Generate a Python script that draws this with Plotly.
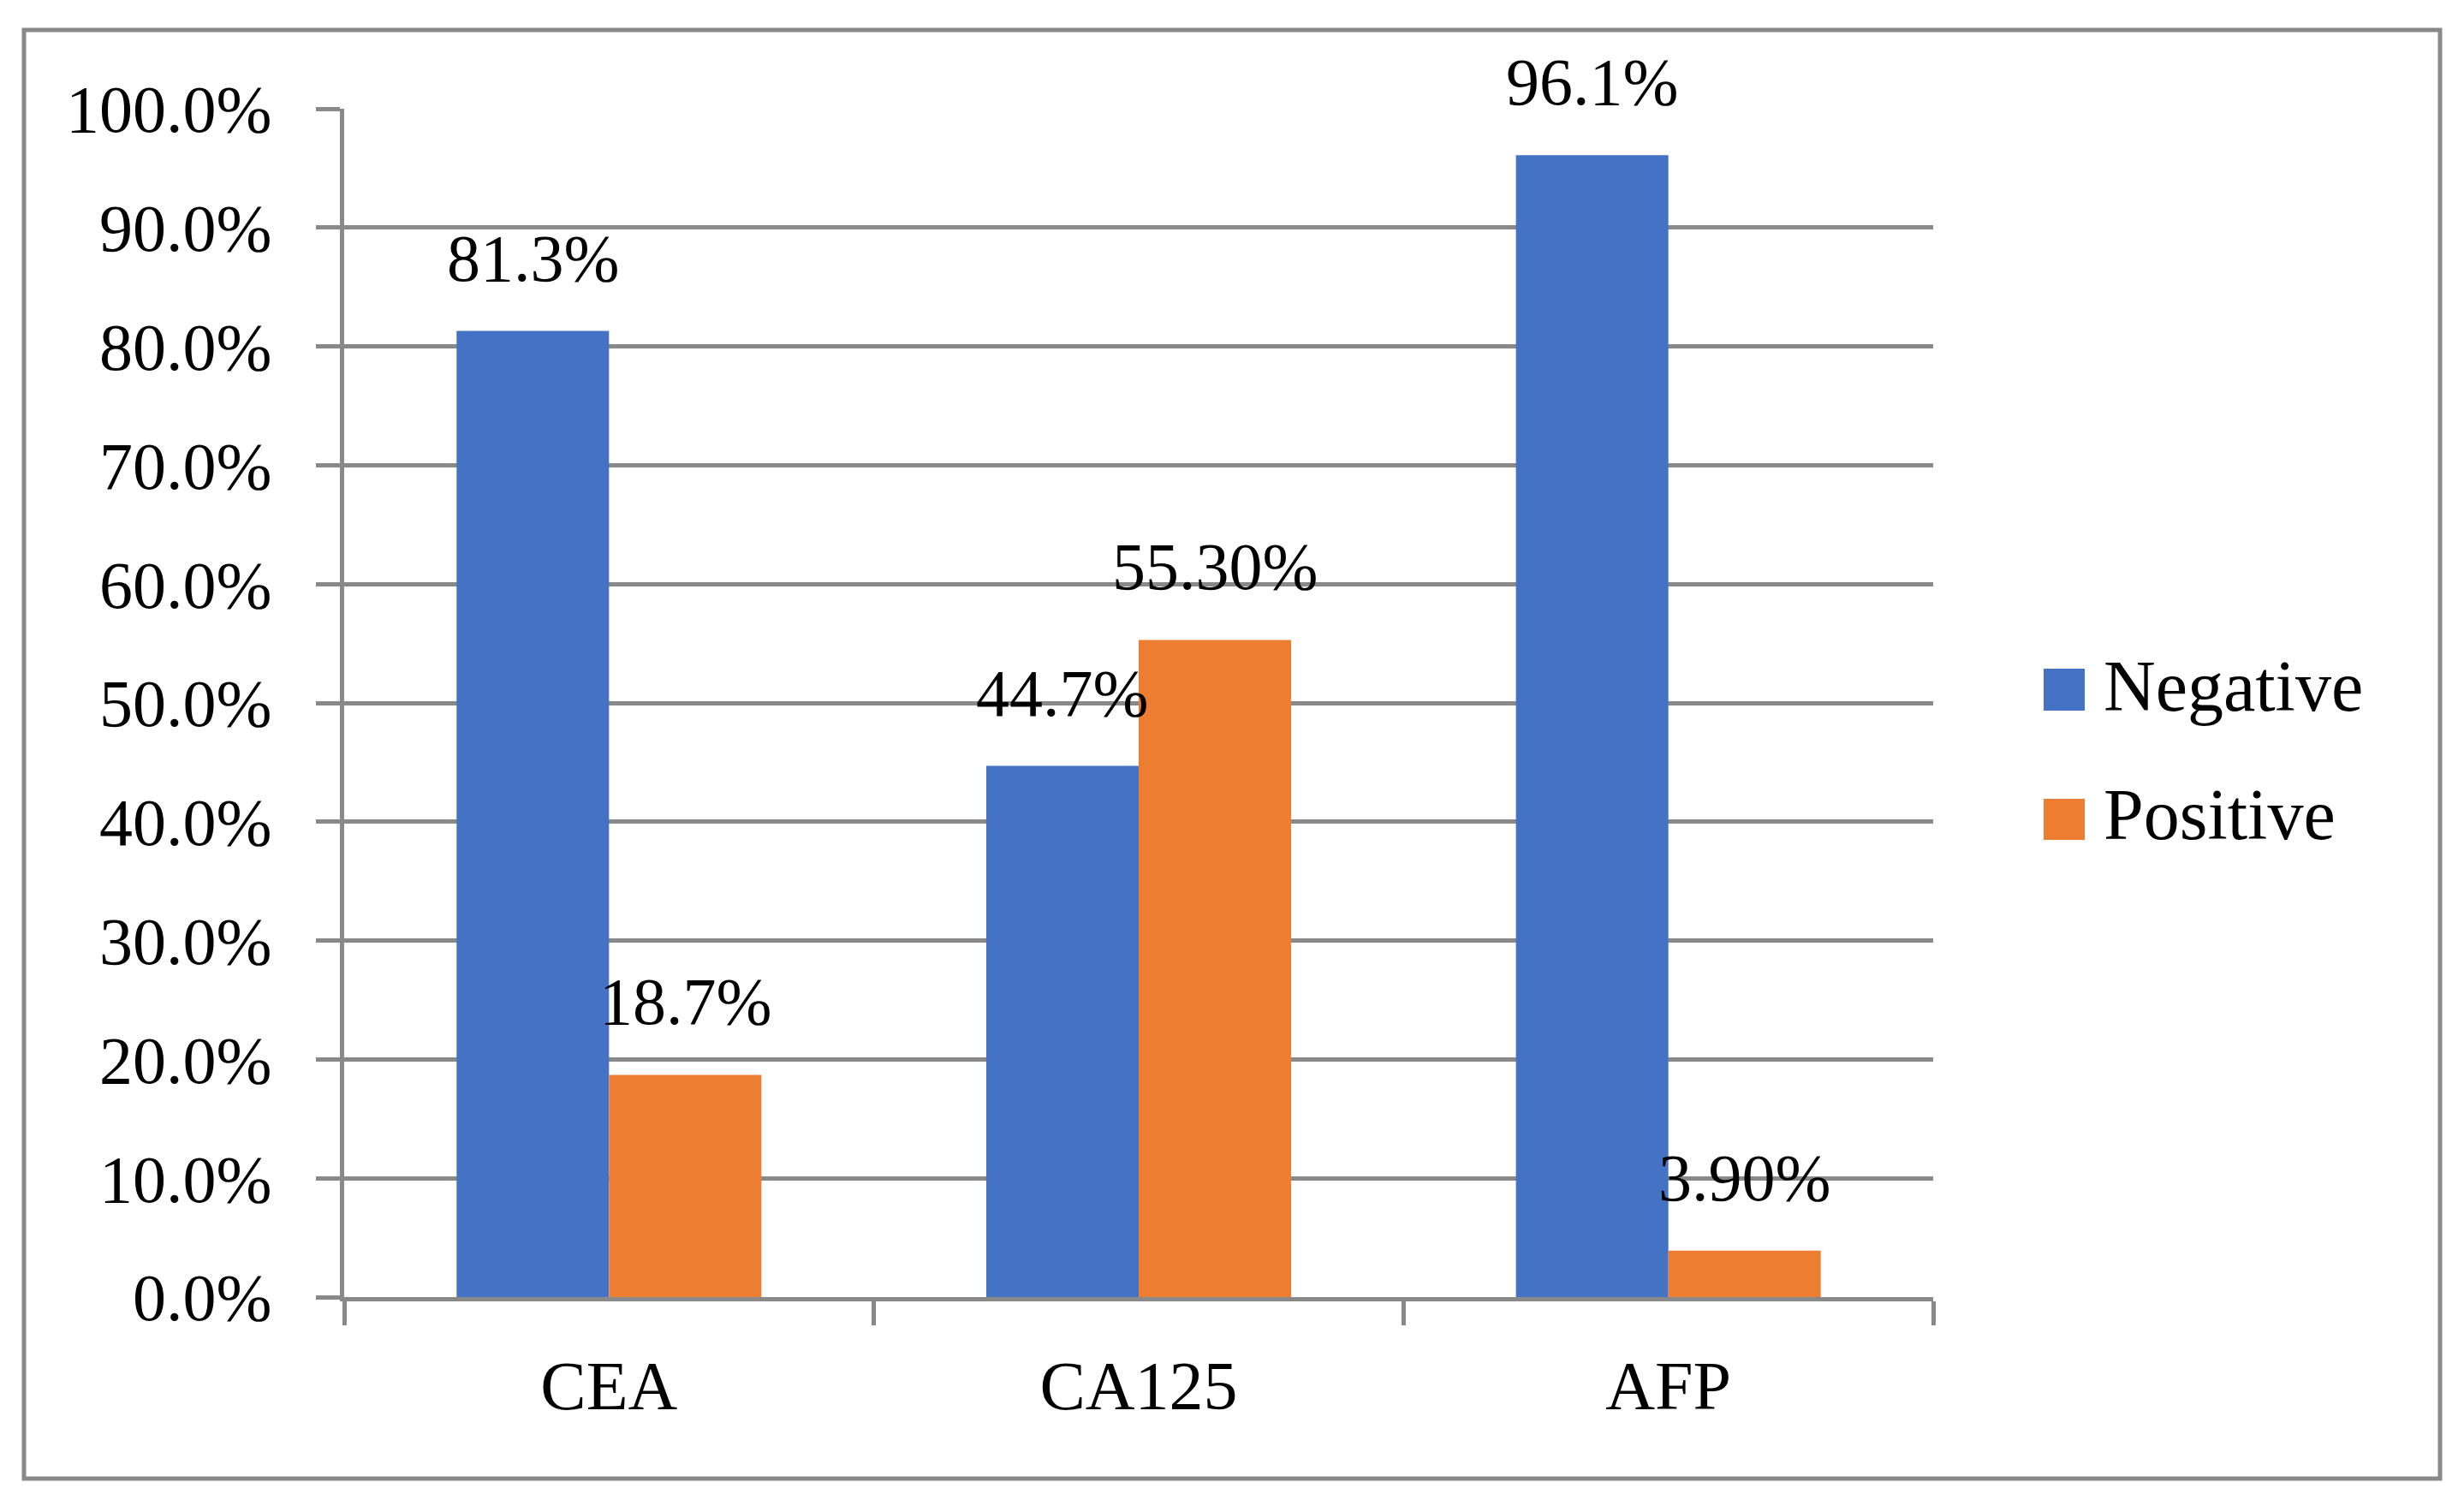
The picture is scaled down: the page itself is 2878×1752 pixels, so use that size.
import plotly.graph_objects as go

categories = ["CEA", "CA125", "AFP"]
negative = [0.813, 0.447, 0.961]
positive = [0.187, 0.553, 0.039]
negative_labels = ["81.3%", "44.7%", "96.1%"]
positive_labels = ["18.7%", "55.30%", "3.90%"]
series_names = ["Negative", "Positive"]
y_ticks = [i / 10 for i in range(11)]

BLUE = "#4472C4"
ORANGE = "#ED7D31"
GRAY = "#898989"
FONT = "Liberation Serif"
FS = 78

# page offset: browser body margin of 8px
OFF = 8
W, H = 2878 - 2 * OFF, 1752 - 2 * OFF
L, T = 402 - OFF, 127 - OFF
R = W - (2258 - OFF)
B = H - (1515 - OFF)
BARGAP = 0.4245
plot_w = W - L - R
ph = H - T - B
bar_w = plot_w / len(categories) * (1 - BARGAP) / 2

fig = go.Figure()
fig.add_trace(go.Bar(x=categories, y=negative, name=series_names[0],
                     marker=dict(color=BLUE, line=dict(width=0))))
fig.add_trace(go.Bar(x=categories, y=positive, name=series_names[1],
                     marker=dict(color=ORANGE, line=dict(width=0))))

annotations = []
for vals, labs, sh in [(negative, negative_labels, -bar_w / 2), (positive, positive_labels, bar_w / 2)]:
    for c, v, t in zip(categories, vals, labs):
        annotations.append(dict(x=c, y=v, xref="x", yref="y", text=t, showarrow=False,
                                xanchor="center", yanchor="bottom", xshift=sh, yshift=40,
                                font=dict(family=FONT, size=FS, color="black")))

# page-pixel helpers -> paper coordinates
def py(pix):
    return ((1515 - OFF) - (pix - OFF)) / ph
def px(pix):
    return (pix - 402) / plot_w

shapes = [
    dict(type="rect", xref="paper", yref="paper", x0=px(28), x1=px(2850), y0=py(1727), y1=py(35),
         line=dict(color=GRAY, width=5), fillcolor="rgba(0,0,0,0)", layer="below"),
    dict(type="rect", xref="paper", yref="paper", x0=px(2387), x1=px(2435), y0=py(830), y1=py(781),
         line=dict(width=0), fillcolor=BLUE),
    dict(type="rect", xref="paper", yref="paper", x0=px(2387), x1=px(2435), y0=py(981), y1=py(933),
         line=dict(width=0), fillcolor=ORANGE),
]
for name, yc in zip(series_names, [801, 952]):
    annotations.append(dict(x=px(2455), y=py(yc), xref="paper", yref="paper", text=name,
                            showarrow=False, xanchor="left", yanchor="middle",
                            font=dict(family=FONT, size=84, color="black")))

fig.update_layout(
    width=W, height=H,
    margin=dict(l=L, r=R, t=T, b=B, pad=0),
    paper_bgcolor="white", plot_bgcolor="white",
    barmode="group", bargap=BARGAP, bargroupgap=0,
    showlegend=False,
    font=dict(family=FONT, size=FS, color="black"),
    annotations=annotations,
    shapes=shapes,
)
fig.update_xaxes(type="category", showline=True, linecolor=GRAY, linewidth=5,
                 ticks="outside", tickson="boundaries", ticklen=28, tickwidth=5, tickcolor=GRAY,
                 showgrid=False, ticklabelstandoff=30,
                 tickfont=dict(family=FONT, size=80, color="black"))
fig.update_yaxes(range=[0, 1], tickvals=y_ticks, tickformat=".1%",
                 showgrid=True, gridcolor=GRAY, gridwidth=5,
                 showline=True, linecolor=GRAY, linewidth=5,
                 ticks="outside", ticklen=28, tickwidth=5, tickcolor=GRAY,
                 zeroline=False, ticklabelstandoff=36,
                 tickfont=dict(family=FONT, size=FS, color="black"))

fig.write_html("out.html")
